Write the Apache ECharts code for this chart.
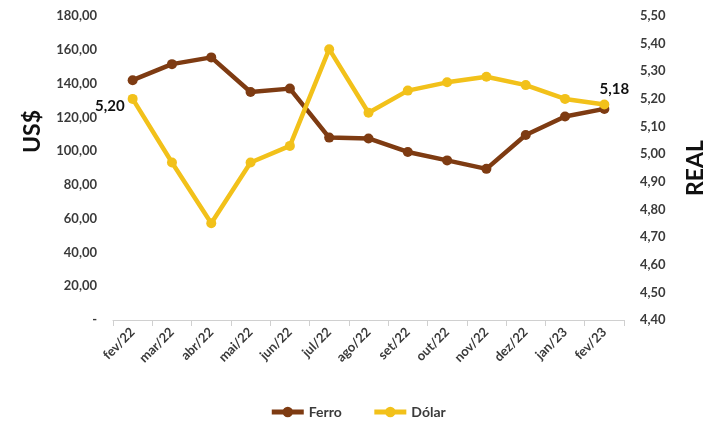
<!DOCTYPE html>
<html><head><meta charset="utf-8">
<script src="https://cdn.jsdelivr.net/npm/echarts@6/dist/echarts.min.js"></script>
<style>html,body{margin:0;padding:0;background:#fff}#c{width:715px;height:433px}</style>
</head><body><div id="c"></div>
<script>
const categories = ['fev/22','mar/22','abr/22','mai/22','jun/22','jul/22','ago/22','set/22','out/22','nov/22','dez/22','jan/23','fev/23'];
const ferro = [142, 151.5, 155.5, 135, 137, 108, 107.5, 99.5, 94.5, 89.5, 109.5, 120.5, 125];
const dolar = [5.20, 4.97, 4.75, 4.97, 5.03, 5.38, 5.15, 5.23, 5.26, 5.28, 5.25, 5.20, 5.18];
const leftTicks = {min: 0, max: 180, interval: 20};
const rightTicks = {min: 4.4, max: 5.5, interval: 0.1};

const FONT = 'Lato';
const txt = '#3a3a3a';
const fmt = v => v.toFixed(2).replace('.', ',');
const chart = echarts.init(document.getElementById('c'));
chart.setOption({
  animation: false,
  textStyle: {fontFamily: FONT},
  grid: {left: 113, right: 87, top: 16, bottom: 113},
  legend: {
    bottom: 9, left: 'center', itemGap: 30, itemWidth: 32, itemHeight: 13,
    textStyle: {fontFamily: FONT, fontSize: 14, fontWeight: 'bold', color: txt},
    lineStyle: {width: 5},
    data: ['Ferro', 'Dólar']
  },
  graphic: [
    {type: 'text', left: 21, top: 110, rotation: Math.PI/2,
     style: {text: 'US$', font: 'bold 23px Lato', fill: '#111'}},
    {type: 'text', x: 3, y: 138, rotation: Math.PI/2,
     style: {text: 'REAL', font: 'bold 23px Lato', fill: '#111', align: 'center', verticalAlign: 'bottom'}}
  ],
  xAxis: {
    type: 'category', data: categories, boundaryGap: true,
    axisLine: {lineStyle: {color: '#d0d0d0'}},
    axisTick: {show: true, length: 6, lineStyle: {color: '#d0d0d0'}},
    axisLabel: {rotate: 45, color: txt, fontWeight: 'bold', fontSize: 13, margin: 10, interval: 0}
  },
  yAxis: [
    {type: 'value', min: leftTicks.min, max: leftTicks.max, interval: leftTicks.interval,
     splitLine: {show: false}, axisLine: {show: false}, axisTick: {show: false},
     axisLabel: {color: txt, fontWeight: 'bold', fontSize: 13, margin: 16,
       formatter: v => v === 0 ? '-' : fmt(v)}},
    {type: 'value', min: rightTicks.min, max: rightTicks.max, interval: rightTicks.interval,
     position: 'right', name: 'REAL', nameLocation: 'middle', nameRotate: 90, nameGap: 60,
     nameTextStyle: {fontFamily: FONT, fontSize: 23, fontWeight: 'bold', color: '#111'},
     splitLine: {show: false}, axisLine: {show: false}, axisTick: {show: false},
     axisLabel: {color: txt, fontWeight: 'bold', fontSize: 13, margin: 16, formatter: v => fmt(v)}}
  ],
  series: [
    {name: 'Ferro', type: 'line', yAxisIndex: 0, data: ferro,
     symbol: 'circle', symbolSize: 10, lineStyle: {width: 4.5, color: '#7E3B12'},
     itemStyle: {color: '#7E3B12'}},
    {name: 'Dólar', type: 'line', yAxisIndex: 1,
     data: dolar.map((v, i) => {
       if (i === 0) return {value: v, label: {show: true, position: 'left', offset: [2, 7], formatter: p => fmt(p.value)}};
       if (i === dolar.length - 1) return {value: v, label: {show: true, position: 'top', offset: [10, 2], formatter: p => fmt(p.value)}};
       return v;
     }),
     label: {show: false, color: '#111', fontWeight: 'bold', fontSize: 15, fontFamily: FONT},
     symbol: 'circle', symbolSize: 10, lineStyle: {width: 4.5, color: '#F2C11A'},
     itemStyle: {color: '#F2C11A'}}
  ]
});
</script></body></html>
